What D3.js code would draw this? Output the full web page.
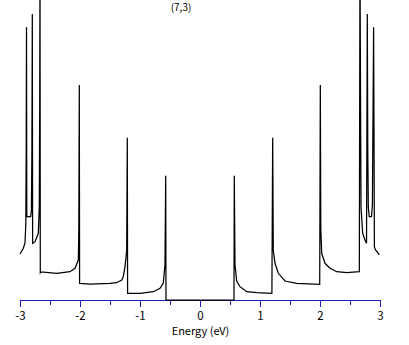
<!DOCTYPE html>
<html>
<head>
<meta charset="utf-8">
<script src="https://cdn.jsdelivr.net/npm/d3@7"></script>
<style>
  html, body { margin: 0; padding: 0; background: #fff; }
  svg { display: block; }
  text { font-family: "Noto Sans CJK JP", "DejaVu Sans", sans-serif; fill: #000; }
</style>
</head>
<body>
<div id="chart"></div>
<script>
// DOS della nanotube (7,3) (unita' arbitrarie)
const title = "(7,3)";
const xLabel = "Energy (eV)";

// banda di valenza (E < 0)
const valenceE = [-3.008, -2.953, -2.925, -2.912, -2.905, -2.900, -2.895, -2.870, -2.830, -2.818, -2.810, -2.803,
  -2.798, -2.758, -2.703, -2.687, -2.680, -2.675, -2.670, -2.660, -2.397, -2.175, -2.092, -2.036, -2.028, -2.020,
  -2.015, -1.842, -1.508, -1.397, -1.313, -1.287, -1.258, -1.230, -1.220, -1.215, -1.008, -0.787, -0.675, -0.620,
  -0.592, -0.580, -0.575];
const valenceDos = [0.46, 0.517, 0.57, 0.75, 1.5, 2.727, 0.83, 0.835, 0.835, 0.90, 1.5, 2.86,
  0.567, 0.583, 0.667, 0.933, 1.92, 3.4, 0.273, 0.28, 0.267, 0.283, 0.317, 0.40, 0.73, 2.15,
  0.167, 0.16, 0.167, 0.173, 0.20, 0.233, 0.333, 0.50, 1.623, 0.067, 0.067, 0.083, 0.117, 0.17,
  0.35, 1.243, 0];

// banda di conduzione (E > 0)
const conductionE = [0.558, 0.563, 0.575, 0.603, 0.658, 0.770, 0.937, 1.190, 1.203, 1.213, 1.242, 1.297, 1.408,
  1.603, 1.987, 1.997, 2.005, 2.020, 2.075, 2.158, 2.270, 2.437, 2.647, 2.658, 2.668, 2.675, 2.703, 2.742, 2.767,
  2.780, 2.788, 2.797, 2.812, 2.850, 2.865, 2.885, 2.892, 2.898, 2.917, 2.947, 2.980];
const conductionDos = [0, 1.243, 0.35, 0.19, 0.133, 0.083, 0.073, 0.067, 1.623, 0.5, 0.367, 0.267, 0.19,
  0.167, 0.157, 2.15, 0.72, 0.467, 0.367, 0.317, 0.283, 0.273, 0.283, 3.4, 1.92, 0.933, 0.667, 0.60, 0.567,
  2.86, 1.5, 0.93, 0.833, 0.833, 0.95, 2.727, 1.63, 0.53, 0.50, 0.48, 0.45];

const majorTicks = [-3, -2, -1, 0, 1, 2, 3];
const minorTicks = [-2.5, -1.5, -0.5, 0.5, 1.5, 2.5];

const width = 409, height = 345;

const x = d3.scaleLinear().domain([-3, 3]).range([20.5, 380.5]);
const y = d3.scaleLinear().domain([0, 3]).range([300, 0]);

const svg = d3.select("#chart").append("svg")
  .attr("width", width)
  .attr("height", height);

svg.append("clipPath").attr("id", "clip")
  .append("rect").attr("x", 0).attr("y", 0).attr("width", width).attr("height", 303);

// asse x (blu, tacche verso il basso)
const axisColor = "#1c1cc8";
const axisG = svg.append("g").attr("class", "axis").attr("shape-rendering", "crispEdges");

axisG.append("line")
  .attr("x1", x(-3)).attr("x2", x(3))
  .attr("y1", y(0)).attr("y2", y(0))
  .attr("stroke", axisColor).attr("stroke-width", 1);

axisG.selectAll(".major")
  .data(majorTicks)
  .enter().append("line")
  .attr("class", "major")
  .attr("x1", d => x(d)).attr("x2", d => x(d))
  .attr("y1", y(0)).attr("y2", y(0) + 7)
  .attr("stroke", axisColor).attr("stroke-width", 1);

axisG.selectAll(".minor")
  .data(minorTicks)
  .enter().append("line")
  .attr("class", "minor")
  .attr("x1", d => x(d)).attr("x2", d => x(d))
  .attr("y1", y(0)).attr("y2", y(0) + 5)
  .attr("stroke", axisColor).attr("stroke-width", 1);

axisG.selectAll(".tick-label")
  .data(majorTicks)
  .enter().append("text")
  .attr("class", "tick-label")
  .attr("x", d => x(d))
  .attr("y", 320)
  .attr("text-anchor", "middle")
  .style("font-size", "11.5px")
  .text(d => d < 0 ? "-" + Math.abs(d) : d);

svg.append("text")
  .attr("x", x(0))
  .attr("y", 335)
  .attr("text-anchor", "middle")
  .style("font-size", "11px")
  .text(xLabel);

svg.append("text")
  .attr("x", 181)
  .attr("y", 11)
  .attr("text-anchor", "middle")
  .style("font-size", "10px")
  .text(title);

// curva DOS
const points = valenceE.map((e, i) => [e, valenceDos[i]])
  .concat(conductionE.map((e, i) => [e, conductionDos[i]]));

const line = d3.line()
  .x(d => x(d[0]))
  .y(d => y(d[1]));

svg.append("path")
  .datum(points)
  .attr("clip-path", "url(#clip)")
  .attr("fill", "none")
  .attr("stroke", "#000")
  .attr("stroke-width", 1.25)
  .attr("d", line);
</script>
</body>
</html>
